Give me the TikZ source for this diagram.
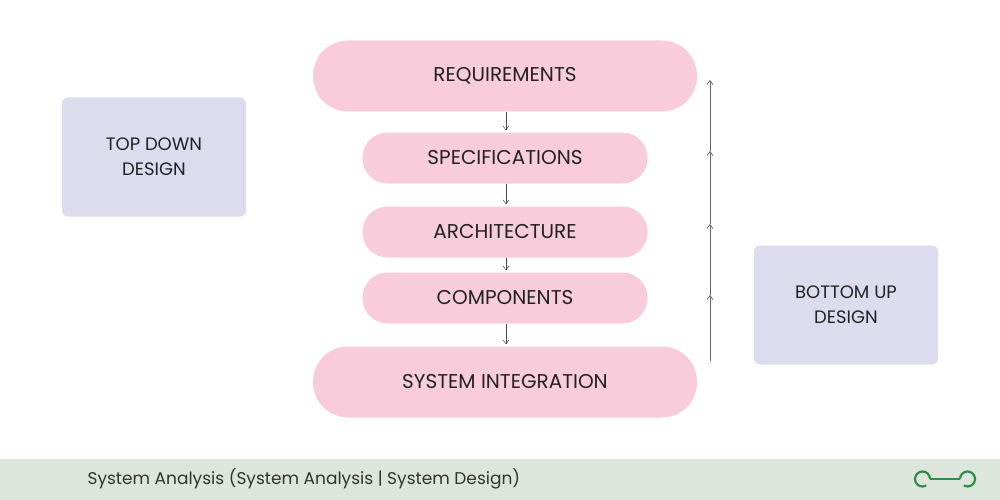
\documentclass[tikz,border=0pt]{standalone}
\usepackage{fontspec}
\setmainfont{Poppins}
\usetikzlibrary{arrows.meta,calc}
\definecolor{pinkb}{HTML}{F8CCDB}
\definecolor{lav}{HTML}{DCDCEE}
\definecolor{foot}{HTML}{DCE6DC}
\definecolor{gfg}{HTML}{2F8D46}
\definecolor{txt}{HTML}{222222}
\definecolor{ftxt}{HTML}{333333}
\begin{document}
\begin{tikzpicture}[x=1pt,y=-1pt,
  stage/.style={fill=pinkb,rounded corners=25pt,text=txt,font=\fontsize{20}{24}\selectfont},
  side/.style={fill=lav,rounded corners=6pt,minimum width=184pt,minimum height=119pt,align=center,text=txt,font=\fontsize{18}{25}\selectfont},
  dn/.style={-{Straight Barb[length=4pt,width=6pt]},line width=0.5pt,draw=black!70},
  up/.style={-{Straight Barb[length=4pt,width=6pt]},line width=0.7pt,draw=black!60}]
\useasboundingbox (0,0) rectangle (1000,500);
\fill[foot] (0,459) rectangle (1000,500);
\node[stage,minimum width=384pt,minimum height=71pt,rounded corners=35pt] (req) at (505,76) {REQUIREMENTS};
\node[stage,minimum width=285pt,minimum height=51pt] (spec) at (505,158) {SPECIFICATIONS};
\node[stage,minimum width=285pt,minimum height=51pt] (arch) at (505,232) {ARCHITECTURE};
\node[stage,minimum width=285pt,minimum height=51pt] (comp) at (505,298) {COMPONENTS};
\node[stage,minimum width=384pt,minimum height=71pt,rounded corners=35pt] (sys) at (505,382) {SYSTEM INTEGRATION};
\node[side] (td) at (154,157) {TOP DOWN\\DESIGN};
\node[side] (bu) at (846,305) {BOTTOM UP\\DESIGN};
\draw[dn] ($(req.south)+(1,0)$) -- ($(spec.north)+(1,-2)$);
\draw[dn] ($(spec.south)+(1,0)$) -- ($(arch.north)+(1,-2)$);
\draw[dn] ($(arch.south)+(1,0)$) -- ($(comp.north)+(1,-2)$);
\draw[dn] ($(comp.south)+(1,0)$) -- ($(sys.north)+(1,-2)$);
\coordinate (u0) at (710,361);
\coordinate (u1) at (710,295);
\coordinate (u2) at (710,224);
\coordinate (u3) at (710,151);
\coordinate (u4) at (710,80);
\draw[up] (u0) -- (u1);
\draw[up] (u1) -- (u2);
\draw[up] (u2) -- (u3);
\draw[up] (u3) -- (u4);
\node[anchor=west,text=ftxt,font=\fontsize{17}{20}\selectfont] (ft) at (84,479) {System Analysis (System Analysis | System Design)};
\begin{scope}[shift={(945,479)},draw=gfg,line width=2.2pt]
\draw (-15,0) -- (15,0);
\draw (-15,0) arc[start angle=0,end angle=-300,radius=7.5];
\draw (15,0) arc[start angle=180,end angle=480,radius=7.5];
\end{scope}
\end{tikzpicture}
\end{document}
